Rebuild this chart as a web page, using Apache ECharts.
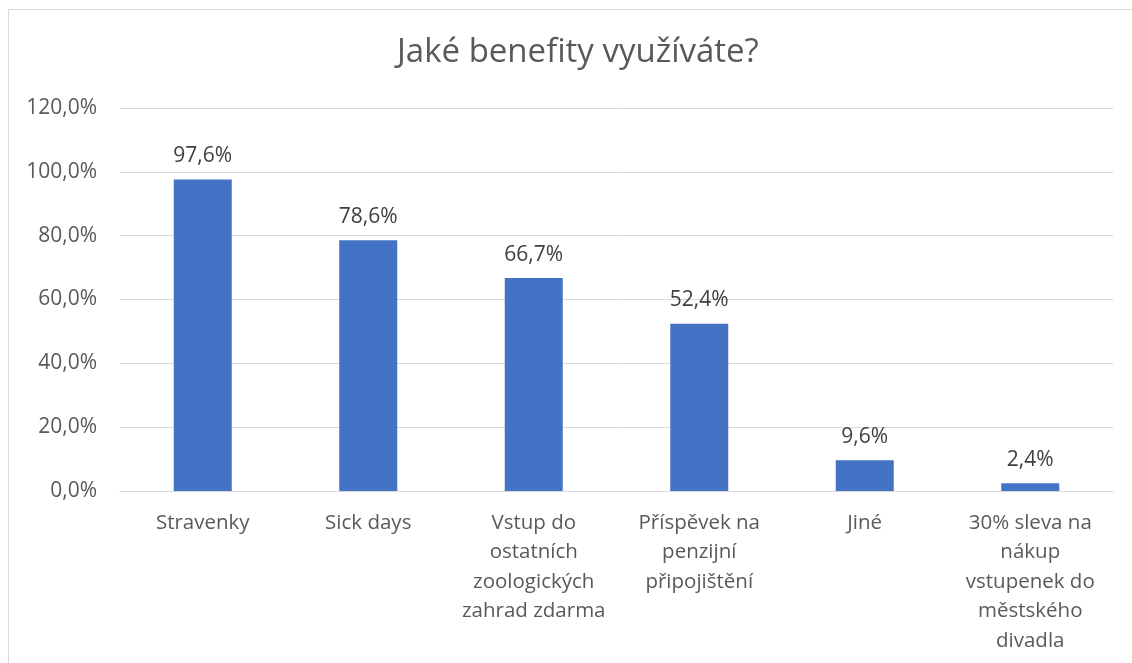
<!DOCTYPE html>
<html>
<head>
<meta charset="utf-8">
<script src="https://cdn.jsdelivr.net/npm/echarts@6/dist/echarts.min.js"></script>
<style>
  html, body { margin: 0; padding: 0; background: #fff; }
  #chart { width: 1132px; height: 663px; }
</style>
</head>
<body>
<div id="chart"></div>
<script>
const categories = [
    'Stravenky',
    'Sick days',
    'Vstup do\nostatních\nzoologických\nzahrad zdarma',
    'Příspěvek na\npenzijní\npřipojištění',
    'Jiné',
    '30% sleva na\nnákup\nvstupenek do\nměstského\ndivadla'
];
const values = [97.6, 78.6, 66.7, 52.4, 9.6, 2.4];
const yTicks = [0, 20, 40, 60, 80, 100, 120];

const pct = v => v.toFixed(1).replace('.', ',') + '%';
const font = '"Open Sans", "Noto Sans", sans-serif';

const chart = echarts.init(document.getElementById('chart'));
chart.setOption({
    animation: false,
    title: {
        text: 'Jaké benefity využíváte?',
        left: 392,
        top: 31,
        textStyle: { fontFamily: font, fontSize: 33, fontWeight: 'normal', color: '#595959' }
    },
    graphic: [{
        type: 'rect',
        shape: { x: 8.5, y: 9.5, width: 1400, height: 1000 },
        style: { fill: 'none', stroke: '#d9d9d9', lineWidth: 1 },
        silent: true
    }],
    grid: { left: 120, right: 19, top: 108, bottom: 172 },
    xAxis: {
        type: 'category',
        data: categories,
        axisLine: { lineStyle: { color: '#d9d9d9', width: 1 } },
        axisTick: { show: false },
        axisLabel: {
            interval: 0,
            margin: 17,
            fontFamily: font,
            fontSize: 20.5,
            lineHeight: 29.5,
            color: '#595959'
        }
    },
    yAxis: {
        type: 'value',
        min: yTicks[0],
        max: yTicks[yTicks.length - 1],
        interval: 20,
        axisLine: { show: false },
        axisTick: { show: false },
        splitLine: { lineStyle: { color: '#d9d9d9', width: 1 } },
        axisLabel: {
            margin: 23,
            fontFamily: font,
            fontSize: 21,
            color: '#595959',
            formatter: v => pct(v)
        }
    },
    series: [{
        type: 'bar',
        data: values,
        barWidth: 58,
        itemStyle: { color: '#4472c4' },
        label: {
            show: true,
            position: 'top',
            distance: 13,
            fontFamily: font,
            fontSize: 21,
            color: '#404040',
            formatter: p => pct(p.value)
        }
    }]
});
</script>
</body>
</html>
